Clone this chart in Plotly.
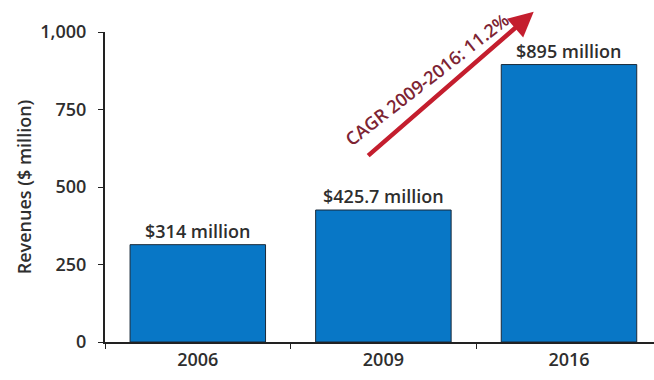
import plotly.graph_objects as go

years = ["2006", "2009", "2016"]
revenues = [314, 425.7, 895]
bar_labels = ["$314 million", "$425.7 million", "$895 million"]
y_ticks = [0, 250, 500, 750, 1000]
y_tick_text = ["0", "250", "500", "750", "1,000"]
cagr_text = "CAGR 2009-2016: 11.2%"

FONT = "Open Sans"
TXT = "#2e2e2e"

fig = go.Figure()
fig.add_trace(go.Bar(
    x=years, y=revenues, width=0.73,
    marker=dict(color="#0877c6", line=dict(color="#1a2a3a", width=1)),
    showlegend=False,
))

for i, (v, lab) in enumerate(zip(revenues, bar_labels)):
    fig.add_annotation(x=i, y=v, text=lab, showarrow=False, yanchor="bottom",
                       yshift=0, font=dict(family=FONT, size=18, color=TXT, weight=600))

# CAGR arrow
fig.add_annotation(x=1.81, y=1065, ax=0.91, ay=597, xref="x", yref="y",
                   axref="x", ayref="y", text="", showarrow=True,
                   arrowhead=2, arrowsize=1.1, arrowwidth=4.5, arrowcolor="#c41e2e")
fig.add_annotation(x=1.235, y=848, xref="x", yref="y", text=cagr_text,
                   showarrow=False, textangle=-38,
                   font=dict(family=FONT, size=18, color="#7d2433", weight=600))

fig.update_layout(
    width=654, height=380,
    margin=dict(l=105, r=0, t=32, b=38),
    paper_bgcolor="white", plot_bgcolor="white",
    font=dict(family=FONT, color=TXT),
    xaxis=dict(type="category", range=[-0.5, 2.458], showline=True, linecolor="#222",
               linewidth=2, ticks="outside", ticklen=5, tickcolor="#222",
               tickson="boundaries",
               tickfont=dict(size=18, color=TXT, weight=600), showgrid=False,
               zeroline=False),
    yaxis=dict(range=[0, 1000], tickvals=y_ticks, ticktext=y_tick_text,
               showline=True, linecolor="#222", linewidth=2, ticks="outside",
               ticklen=5, tickcolor="#222", ticklabelstandoff=8,
               tickfont=dict(size=18, color=TXT, weight=600), showgrid=False,
               zeroline=False,
               title=dict(text="Revenues ($ million)", standoff=4,
                          font=dict(size=18, color=TXT, weight=600))),
)

fig.write_html("out.html")
